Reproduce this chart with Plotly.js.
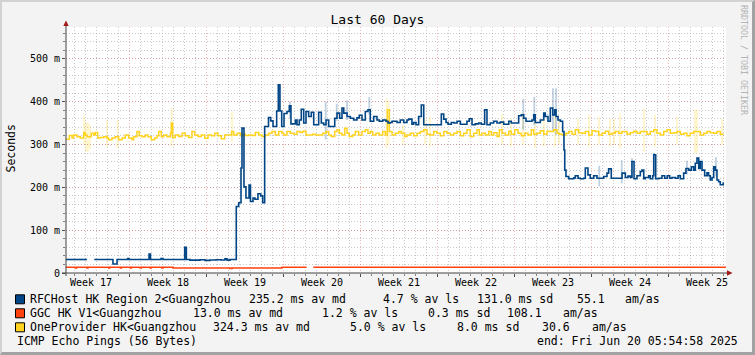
<!DOCTYPE html>
<html><head><meta charset="utf-8">
<script src="https://cdn.plot.ly/plotly-3.0.1.min.js"></script>
<style>
html,body{margin:0;padding:0;background:#f3f3f3;}
#wrap{position:relative;width:755px;height:355px;overflow:hidden;}
#chart{width:755px;height:355px;}
#frame{position:absolute;left:0;top:0;width:755px;height:355px;box-sizing:border-box;border-top:2px solid #d2d2d2;border-left:2px solid #d2d2d2;border-right:3px solid #a2a2a2;border-bottom:3px solid #a2a2a2;pointer-events:none;}
</style></head><body>
<div id="wrap"><div id="chart"></div><div id="frame"></div></div>
<script>
// ---------- DATA (time in days from graph start, values in ms) ----------
const graphStart = '2025-04-21 05:54:58';
const graphDays = 60;

const rfcDay = [
0,1.90,1.91,2.57,4.27,4.64,5.61,5.73,7.55,7.68,
8.64,8.82,10.79,10.94,11.27,12.18,12.64,13.09,13.64,14.09,
14.45,14.64,14.91,15.48,15.70,15.91,16.00,16.18,16.36,16.64,
16.77,17.00,17.18,17.45,17.70,17.88,18.06,18.41,18.61,18.82,
19.15,19.30,19.45,19.61,19.82,20.09,20.30,20.45,20.85,21.00,
21.21,21.39,21.61,21.82,22.06,22.30,22.52,22.97,23.21,23.43,
23.64,23.88,24.43,24.64,24.88,25.09,25.25,25.55,25.85,26.15,
26.45,26.66,26.91,27.21,27.45,27.66,27.97,28.27,28.48,28.79,
29.09,29.27,29.48,29.64,30.09,30.39,30.70,31.00,31.15,31.45,
31.61,31.82,32.06,32.30,32.52,34.12,34.34,34.55,34.73,35.03,
35.27,35.55,35.85,36.45,36.66,36.91,37.21,37.52,37.75,38.06,
38.27,38.57,38.88,39.18,39.48,39.79,40.25,40.48,41.15,41.39,
41.61,41.82,42.36,42.52,42.66,43.12,43.43,43.57,43.82,44.03,
44.25,44.43,44.55,44.73,44.94,45.15,45.27,45.34,45.45,45.70,
46.15,46.30,46.55,46.75,47.06,47.21,47.45,47.66,47.97,48.27,
48.88,49.18,49.33,49.57,50.55,50.85,51.09,51.30,51.45,51.64,
51.91,52.21,52.36,52.52,52.66,52.97,53.12,53.34,53.43,53.61,
53.88,54.18,54.43,54.66,54.88,55.09,55.39,55.64,55.85,56.15,
56.36,56.61,56.85,57.06,57.21,57.36,57.52,57.66,57.82,58.06,
58.27,58.42,58.57,58.73,58.88,59.03,59.18,59.33,59.48,59.75];
const rfcMs = [
31.5,31.5,null,31.5,21,31.5,34,31.5,44,31.5,
34,31.5,60,31.5,30,31,29.5,30.5,31,30.5,
33,30,31.5,155,164,245,338,201,175,205,
167,175,172,185,180,164,342,363,355,342,
378,439,378,342,372,377,390,348,357,346,
357,382,350,377,365,375,346,375,350,346,
357,342,361,373,361,385,373,365,361,357,
362,368,357,377,381,354,365,357,354,357,
354,350,351,354,351,357,351,357,359,347,
351,346,365,392,346,371,359,351,347,351,
350,354,347,354,360,346,348,350,347,381,
346,350,354,350,352,347,354,350,367,369,
361,354,357,369,351,357,373,365,354,385,
369,381,365,357,354,330,287,240,225,220,
222,227,221,220,221,245,229,221,227,221,
225,233,243,221,233,223,226,223,260,220,
227,237,240,220,223,227,220,227,276,220,
221,227,221,227,221,223,221,227,220,233,
244,240,248,240,256,268,244,260,240,227,
234,227,217,223,248,240,217,213,206,212];

const ggcDay = [0,0.85,0.95,1.91,2.00,3.88,3.97,4.94,5.03,5.85,5.94,6.75,6.85,7.66,7.75,8.73,8.82,9.73,14.91,15.09,19.64,21.87,21.88,22.48,60];
const ggcMs  = [13.3,12,13.3,12,13.3,12,13.3,12,13.3,12,13.3,12,13.3,12,13.3,12,13.3,11.5,10.5,11.5,13.3,13.3,null,13.3,13.3];

const opDay = [
0,0.30,0.55,0.70,1.00,1.30,1.61,1.75,1.91,2.30,
2.52,2.66,2.88,3.12,3.43,3.73,3.88,4.18,4.48,4.79,
5.09,5.39,5.70,6.00,6.15,6.45,6.66,6.91,7.21,7.45,
7.75,8.06,8.27,8.43,8.66,8.88,9.18,9.48,9.57,9.70,
9.94,10.25,10.55,10.85,11.15,11.45,11.70,12.00,12.30,12.61,
12.91,13.21,13.52,13.82,14.12,14.43,15.06,15.25,15.55,15.85,
16.06,16.30,16.61,16.91,17.21,17.52,17.82,18.12,18.43,18.73,
19.03,19.34,19.64,19.79,20.09,20.39,20.70,21.00,21.30,21.52,
21.82,22.43,22.73,23.34,23.64,23.88,24.12,24.43,24.64,24.85,
25.09,25.34,25.55,25.75,26.06,26.30,26.61,26.91,27.21,27.45,
27.66,27.88,28.18,28.48,28.79,29.03,29.21,29.39,29.64,29.94,
30.25,30.48,30.79,31.00,31.30,31.61,31.91,32.21,32.52,32.82,
33.12,33.43,33.73,34.03,34.34,34.64,34.94,35.25,35.55,35.85,
36.15,36.45,36.75,37.06,37.36,37.57,37.82,38.12,38.43,38.66,
38.88,39.18,39.39,39.64,39.94,40.25,40.48,40.79,41.09,41.39,
41.70,42.00,42.30,42.52,42.82,43.12,43.43,43.73,44.03,44.34,
44.64,44.85,45.15,45.45,45.70,46.00,46.30,46.61,46.91,47.21,
47.52,47.82,48.12,48.43,48.73,49.03,49.33,49.64,49.94,50.25,
50.55,51.00,51.30,51.61,51.91,52.21,52.82,53.12,53.43,53.73,
54.03,54.34,54.64,54.94,55.25,55.55,55.85,56.15,56.45,56.75,
57.06,57.66,57.97,58.27,58.57,58.88,59.18,59.48,59.79];
const opMs = [
312,321,315,322,318,315,328,322,318,326,
322,328,315,316,318,315,311,315,318,311,
315,322,315,311,318,330,320,318,322,318,
311,315,320,330,318,322,318,326,350,316,
322,318.5,326,320,316,330,322,318.5,322,314.6,
322,320,326,320,313,322,330,322,326,320,
324,321,322,321,328,322,318.5,322,326,330,
322,330,326,322,330,326,324,330,328,331,
322,324,322,326,330,322,318.5,330,334,326,
322,338,326,318.5,322,330,322,330,334,326,
330,322,326,322,330,322,381,330,322,326,
330,326,318.5,322,326,320,326,330,334,324,
322,330,326,320,330,326,322,326,330,320,
326,334,318.5,326,334,322,326,322,330,322,
327,318.5,334,326,322,331,324,334,326,320,
326,322,334,324,326,332,324,331,330,334,
326,324,322,326,330,324,334,327,326,330,
322,332,330,322,326,331,324,326,330,326,
330,324,327,331,326,330,324,330,334,326,
322,330,334,326,327,330,324,326,320,326,
330,322,326,330,327,326,330,324,324];

// smoke (spread of pings): position in days, low and high in ms
const opSmokeDay = [1.64,1.82,2.00,2.18,3.73,4.70,9.61,15.09,29.15,29.33,30.64,32.64,33.09,39.64,40.45,41.55,42.64,43.45,44.45,44.82,46.55,47.55,48.45,49.45,49.82,50.36,52.55,53.55,55.55,57.18,57.36,59.64];
const opSmokeLo  = [300,283,283,290,295,290,295,305,291,300,300,300,295,300,295,300,292,295,295,300,300,295,300,295,300,290,283,295,300,280,280,300];
const opSmokeHi  = [368,352,352,345,355,357,385,377,408,400,345,360,365,370,360,373,370,365,375,360,360,370,365,360,360,372,384,370,365,381,381,360];
const rfcSmokeDay = [20.36,23.61,24.61,25.55,27.57,41.57,42.57,44.27,44.55,48.48,50.52,51.45,53.45,56.45,59.09];
const rfcSmokeLo  = [360,311,355,357,369,334,345,330,322,202,209,225,225,230,225];
const rfcSmokeHi  = [400,400,395,403,411,406,411,431,431,250,263,268,280,262,270];

const weekLabels = ['Week 17','Week 18','Week 19','Week 20','Week 21','Week 22','Week 23','Week 24','Week 25'];
const weekMid = ['2025-04-23 12:00','2025-04-30 12:00','2025-05-07 12:00','2025-05-14 12:00','2025-05-21 12:00','2025-05-28 12:00','2025-06-04 12:00','2025-06-11 12:00','2025-06-18 12:00'];
const yTickVals = [0,100,200,300,400,500];
const yTickText = ['0','100 m','200 m','300 m','400 m','500 m'];

const legendNames = ['RFCHost HK Region 2<Guangzhou','GGC HK V1<Guangzhou','OneProvider HK<Guangzhou'];
const legendColors = ['#004586','#ff420e','#ffd320'];
const legendStats = [
  ['235.2 ms av md','4.7 % av ls','131.0 ms sd','55.1','am/as'],
  ['13.0 ms av md','1.2 % av ls','0.3 ms sd','108.1','am/as'],
  ['324.3 ms av md','5.0 % av ls','8.0 ms sd','30.6','am/as']
];
const footerLeft = 'ICMP Echo Pings (56 Bytes)';
const footerRight = 'end: Fri Jun 20 05:54:58 2025';
const titleText = 'Last 60 Days';
const yTitle = 'Seconds';
const watermark = 'RRDTOOL / TOBI OETIKER';

// ---------- helpers ----------
const DAY = 86400000;
const START = Date.parse(graphStart.replace(' ','T') + 'Z');
function toDate(d){ return new Date(START + d*DAY).toISOString().replace('T',' ').replace('Z',''); }
const L = 66, T = 27, W = 660, H = 246;
const px2x = px => (px - L) / W;
const py2y = py => (T + H - py) / H;
const MONO = 'DejaVu Sans Mono, monospace';
const esc = s => s.replace(/</g,'&lt;').replace(/>/g,'&gt;');

// ---------- traces ----------
const traces = [];
traces.push({type:'bar', x:opSmokeDay.map(toDate), base:opSmokeLo, y:opSmokeHi.map((h,i)=>h-opSmokeLo[i]),
  width:2*DAY/11, marker:{color:'rgba(255,211,32,0.22)', line:{width:0}}, hoverinfo:'skip', showlegend:false});
traces.push({type:'bar', x:rfcSmokeDay.map(toDate), base:rfcSmokeLo, y:rfcSmokeHi.map((h,i)=>h-rfcSmokeLo[i]),
  width:1.8*DAY/11, marker:{color:'rgba(0,69,134,0.25)', line:{width:0}}, hoverinfo:'skip', showlegend:false});
traces.push({type:'scatter', mode:'lines', x:opDay.map(toDate), y:opMs, line:{shape:'hv', color:legendColors[2], width:1.5}, connectgaps:false, showlegend:false});
traces.push({type:'scatter', mode:'lines', x:ggcDay.map(toDate), y:ggcMs, line:{shape:'hv', color:legendColors[1], width:1.6}, connectgaps:false, showlegend:false});
traces.push({type:'scatter', mode:'lines', x:rfcDay.map(toDate), y:rfcMs, line:{shape:'hv', color:legendColors[0], width:1.6}, connectgaps:false, showlegend:false});

// ---------- layout decorations ----------
const GRID = 'rgba(150,150,150,0.5)';
const MGRID = 'rgba(225,110,110,0.5)';
const shapes = [
  {type:'line', xref:'paper', yref:'paper', x0:px2x(62), x1:px2x(728), y0:py2y(273), y1:py2y(273), line:{color:'#404040', width:1}},
  {type:'line', xref:'paper', yref:'paper', x0:px2x(66), x1:px2x(66), y0:py2y(276), y1:py2y(25), line:{color:'#404040', width:1}},
  {type:'path', xref:'paper', yref:'paper', path:`M ${px2x(63.3)} ${py2y(26)} L ${px2x(66)} ${py2y(20.5)} L ${px2x(68.7)} ${py2y(26)} Z`, fillcolor:'#a01818', line:{width:0}},
  {type:'path', xref:'paper', yref:'paper', path:`M ${px2x(727)} ${py2y(270.3)} L ${px2x(732.5)} ${py2y(273)} L ${px2x(727)} ${py2y(275.7)} Z`, fillcolor:'#a01818', line:{width:0}}
];
const rowY = [299.3, 313.3, 327.3];
const colX = [[249.3,383.3,476.7,576.7,625],[193.3,321.7,428.3,506.7,563.3],[213.3,350,456.7,541.7,591.7]];
const annotations = [];
function ann(text, px, py, size, extra){
  return Object.assign({text:text, xref:'paper', yref:'paper', x:px2x(px), y:py2y(py), xanchor:'left', yanchor:'middle',
    showarrow:false, borderpad:0, borderwidth:0, font:{family:MONO, size:size, color:'#000'}}, extra||{});
}
legendNames.forEach((n,i)=>{
  shapes.push({type:'rect', xref:'paper', yref:'paper', x0:px2x(15.5), x1:px2x(24.5), y0:py2y(rowY[i]-4.5), y1:py2y(rowY[i]+4.5),
    fillcolor:legendColors[i], line:{color:'#000', width:1}});
  annotations.push(ann(esc(n), 30, rowY[i], 11.5));
  legendStats[i].forEach((s,j)=> annotations.push(ann(esc(s), colX[i][j], rowY[i], 11.5)));
});
annotations.push(ann(esc(footerLeft), 16.7, 341.3, 11.5));
annotations.push(ann(esc(footerRight), 536.7, 341.3, 11.5));
weekLabels.forEach((w,i)=> annotations.push({text:w, xref:'x', yref:'paper', x:weekMid[i], y:py2y(282.5), xanchor:'center', yanchor:'middle',
  showarrow:false, borderpad:0, borderwidth:0, font:{family:MONO, size:10, color:'#000'}}));
annotations.push({text:yTitle, xref:'paper', yref:'paper', x:px2x(10.5), y:py2y(149), xanchor:'center', yanchor:'middle', textangle:-90,
  showarrow:false, borderpad:0, borderwidth:0, font:{family:MONO, size:11.5, color:'#000'}});
annotations.push({text:watermark, xref:'paper', yref:'paper', x:px2x(744), y:py2y(60), xanchor:'center', yanchor:'middle', textangle:90,
  showarrow:false, borderpad:0, borderwidth:0, font:{family:MONO, size:8.3, color:'#b4b4b4'}});

const layout = {
  width:755, height:355,
  margin:{l:L, r:755-L-W, t:T, b:355-T-H, pad:0},
  paper_bgcolor:'#f3f3f3', plot_bgcolor:'#ffffff',
  title:{text:titleText, font:{family:MONO, size:13, color:'#000'}, xref:'container', x:0.5, xanchor:'center', yref:'container', y:1-19/355, yanchor:'middle'},
  showlegend:false, barmode:'overlay',
  xaxis:{type:'date', range:[toDate(0), toDate(graphDays)], showgrid:true, gridcolor:MGRID, gridwidth:1, griddash:'1px,2px',
    tick0:'2025-04-27', dtick:7*DAY, ticks:'outside', ticklen:3, tickcolor:'#505050', showticklabels:false,
    minor:{tick0:'2025-04-22', dtick:DAY, showgrid:true, gridcolor:GRID, gridwidth:1, griddash:'1px,2px', ticks:'outside', ticklen:2, tickcolor:'#808080'},
    showline:false, zeroline:false, fixedrange:true},
  yaxis:{range:[0,574], tickmode:'array', tickvals:yTickVals, ticktext:yTickText, showgrid:true, gridcolor:MGRID, gridwidth:1, griddash:'1px,2px',
    ticks:'outside', ticklen:3, tickcolor:'#505050', tickfont:{family:MONO, size:10, color:'#000'},
    minor:{tick0:0, dtick:20, showgrid:true, gridcolor:GRID, gridwidth:1, griddash:'1px,2px', ticks:'outside', ticklen:2, tickcolor:'#808080'},
    showline:false, zeroline:false, fixedrange:true},
  shapes:shapes, annotations:annotations
};
Plotly.newPlot('chart', traces, layout, {staticPlot:true, displayModeBar:false});
</script></body></html>
